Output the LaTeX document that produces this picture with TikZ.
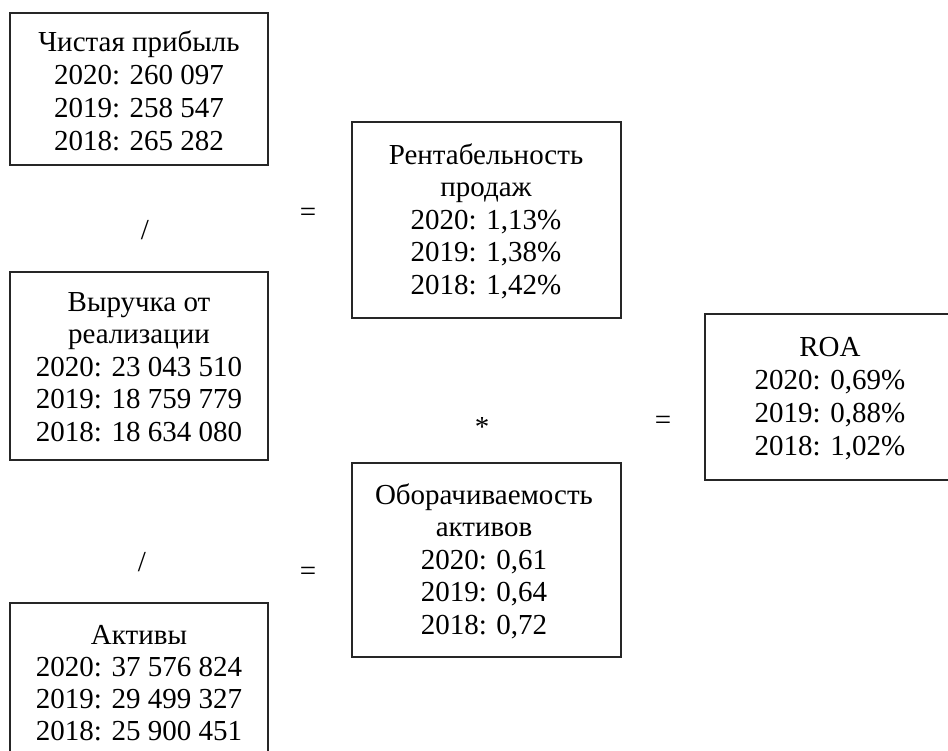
\documentclass[tikz,border=0pt]{standalone}
\usepackage{fontspec}
\setmainfont{Liberation Serif}
\usetikzlibrary{fit}
\begin{document}
\begin{tikzpicture}[x=1pt,y=-1pt,
  frame/.style={draw=black!85, line width=1.4pt, inner sep=0pt},
  txt/.style={align=center, inner sep=0pt, font=\fontsize{29}{#1}\selectfont},
  op/.style={font=\fontsize{29}{32}\selectfont, inner sep=0pt}]
\useasboundingbox (0,0) rectangle (948,751);
\clip (0,0) rectangle (948,751);
% frames
\node[frame, fit={(10,13) (268,165)}] (npf) {};
\node[frame, fit={(10,272) (268,460)}] (revf) {};
\node[frame, fit={(10,603) (268,800)}] (assetsf) {};
\node[frame, fit={(352,122) (621,318)}] (rosf) {};
\node[frame, fit={(352,463) (621,657)}] (atf) {};
\node[frame, fit={(705,314) (960,480)}] (roaf) {};
% texts
\node[txt=33] (np) at (139,91)
  {Чистая прибыль\\2020: 260 097\\2019: 258 547\\2018: 265 282};
\node[txt=32.5] (rev) at (139,367)
  {Выручка от\\реализации\\2020: 23 043 510\\2019: 18 759 779\\2018: 18 634 080};
\node[txt=32] (assets) at (139,683)
  {Активы\\2020: 37 576 824\\2019: 29 499 327\\2018: 25 900 451};
\node[txt=32.5] (ros) at (486,221)
  {Рентабельность\\продаж\\2020: 1,13\%\\2019: 1,38\%\\2018: 1,42\%};
\node[txt=32.5] (at) at (484,561)
  {Оборачиваемость\\активов\\2020: 0,61\\2019: 0,64\\2018: 0,72};
\node[txt=33] (roa) at (830,399)
  {ROA\\2020: 0,69\%\\2019: 0,88\%\\2018: 1,02\%};
% operators
\node[op] (div1) at (145,230) {/};
\node[op] (eq1) at (308,215) {=};
\node[op] (div2) at (142,562) {/};
\node[op] (eq2) at (308,574) {=};
\node[op] (mul) at (482,427) {*};
\node[op] (eq3) at (663,423) {=};
\end{tikzpicture}
\end{document}
